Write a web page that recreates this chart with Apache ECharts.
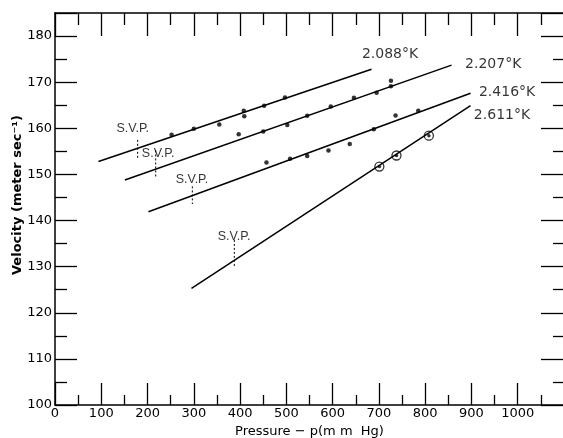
<!DOCTYPE html>
<html>
<head>
<meta charset="utf-8">
<script src="https://cdn.jsdelivr.net/npm/echarts@6/dist/echarts.min.js"></script>
<style>
html,body{margin:0;padding:0;background:#fff;}
#main{width:563px;height:438px;}
</style>
</head>
<body>
<div id="main"></div>
<script>
// measured points (pressure mm Hg, velocity m/s)
var pts2088 = [[252,158.6],[300,159.9],[355,160.8],[408,163.8],[409,162.6],[452,164.9],[497,166.7]];
var pts2207 = [[397,158.7],[450,159.3],[502,160.7],[545,162.7],[596,164.7],[646,166.6],[695,167.7],[726,169.1],[726,170.3]];
var pts2416 = [[457,152.6],[508,153.4],[545,154.0],[591,155.2],[637,156.6],[689,159.8],[736,162.8],[785,163.8]];
var pts2611 = [[701,151.7],[738,154.1],[808,158.4]];

// fitted lines
var fit2088 = [[94,152.8],[684,172.8]];
var fit2207 = [[151,148.8],[857,173.7]];
var fit2416 = [[202,141.9],[898,167.6]];
var fit2611 = [[295,125.3],[898,164.9]];

// saturated vapour pressure marks
var svpX = [178.6,217.6,296.8,387.5];
var svpTop = [157.5,155.2,147.4,135.8];
var svpBot = [153.3,149.5,143.6,129.7];
var svpLabelPos = [[168,159.9],[223,154.6],[296,148.8],[387,136.5]];

var tempNames = ['2.088°K','2.207°K','2.416°K','2.611°K'];
var tempLabelPos = [[724,176.1],[947,173.9],[977,167.7],[966,162.9]];

var chart = echarts.init(document.getElementById('main'));

var series = [];
[fit2088,fit2207,fit2416,fit2611].forEach(function(f){
  series.push({type:'line',data:f,symbol:'none',silent:true,
    lineStyle:{color:'#000',width:1.5}});
});
[pts2088,pts2207,pts2416].forEach(function(p){
  series.push({type:'scatter',data:p,symbol:'circle',symbolSize:4.5,
    itemStyle:{color:'#000'}});
});
series.push({type:'scatter',data:pts2611,symbol:'circle',symbolSize:9,
  itemStyle:{color:'#fff',borderColor:'#000',borderWidth:1.3}});
series.push({type:'scatter',data:pts2611,symbol:'circle',symbolSize:3.5,
  itemStyle:{color:'#000'}});
svpX.forEach(function(x,i){
  series.push({type:'line',data:[[x,svpTop[i]],[x,svpBot[i]]],symbol:'none',
    lineStyle:{color:'#000',width:1,type:[2,2]}});
});
series.push({type:'scatter',symbolSize:0,
  data:svpLabelPos.map(function(p){return {value:p,name:'S.V.P.'};}),
  label:{show:true,position:'inside',formatter:'{b}',color:'#000',
    fontFamily:'Liberation Sans',fontSize:12.5}});
series.push({type:'scatter',symbolSize:0,
  data:tempLabelPos.map(function(p,i){return {value:p,name:tempNames[i]};}),
  label:{show:true,position:'inside',formatter:'{b}',color:'#000',
    fontFamily:'DejaVu Sans',fontSize:14}});

var lineSt = {color:'#000',width:1.5};
var tickSt = {color:'#000',width:1.3};

chart.setOption({
  animation:false,
  backgroundColor:'#fff',
  grid:{left:55,right:-1,top:13,bottom:33,containLabel:false,outerBoundsMode:'none'},
  xAxis:[{
    type:'value',position:'bottom',min:0,max:1100,interval:100,
    name:'Pressure − p(m m  Hg)',nameLocation:'middle',nameGap:20,nameMoveOverlap:false,
    nameTextStyle:{color:'#000',fontFamily:'DejaVu Sans',fontSize:13},
    axisLine:{onZero:false,lineStyle:lineSt},
    axisTick:{inside:true,length:22,lineStyle:tickSt},
    minorTick:{show:true,splitNumber:2,length:10,lineStyle:tickSt},
    axisLabel:{color:'#000',fontFamily:'DejaVu Sans',fontSize:13,margin:2,
      formatter:function(v){return v<=1000?v:'';}},
    splitLine:{show:false}
  },{
    type:'value',position:'top',min:0,max:1100,interval:100,
    axisLine:{onZero:false,lineStyle:lineSt},
    axisTick:{inside:true,length:23,lineStyle:tickSt},
    minorTick:{show:true,splitNumber:2,length:12,lineStyle:tickSt},
    axisLabel:{show:false},splitLine:{show:false}
  }],
  yAxis:[{
    type:'value',position:'left',min:100,max:185,interval:10,
    name:'Velocity (meter sec⁻¹)',nameLocation:'middle',nameGap:31,nameMoveOverlap:false,
    nameTextStyle:{color:'#000',fontFamily:'DejaVu Sans',fontSize:13,fontWeight:'bold',
      padding:[0,0,0,28]},
    axisLine:{onZero:false,lineStyle:lineSt},
    axisTick:{inside:true,length:22,lineStyle:tickSt},
    minorTick:{show:true,splitNumber:2,length:12,lineStyle:tickSt},
    axisLabel:{color:'#000',fontFamily:'DejaVu Sans',fontSize:13,margin:3,
      formatter:function(v){return v%10===0?v:'';}},
    splitLine:{show:false}
  },{
    type:'value',position:'right',min:100,max:185,interval:10,
    axisLine:{show:false,onZero:false,lineStyle:lineSt},
    axisTick:{inside:true,length:23,lineStyle:tickSt},
    minorTick:{show:true,splitNumber:2,length:11,lineStyle:tickSt},
    axisLabel:{show:false},splitLine:{show:false}
  }],
  series:series
});
</script>
</body>
</html>
